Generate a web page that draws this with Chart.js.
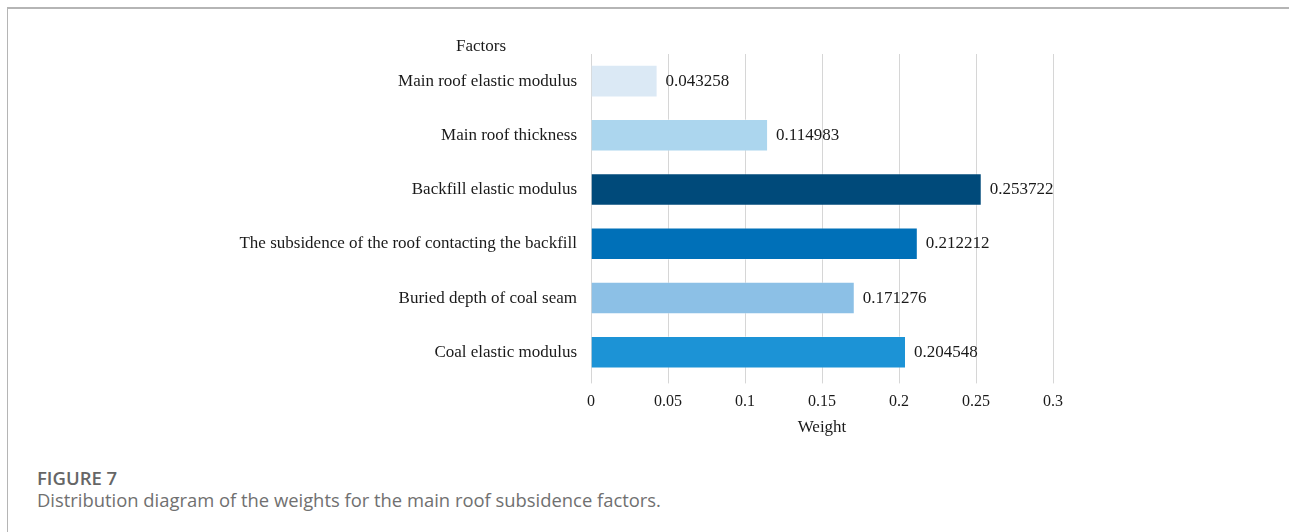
<!DOCTYPE html>
<html>
<head>
<meta charset="utf-8">
<script src="https://cdn.jsdelivr.net/npm/chart.js@4"></script>
<style>
  html, body { margin: 0; padding: 0; background: #fff; }
  #frame {
    position: absolute; left: 7px; top: 7px; right: 0; bottom: 0;
    border-left: 1px solid #b5b5b5; border-top: 2px solid #b5b5b5;
  }
  #wrap { position: absolute; left: 0; top: 0; width: 1289px; height: 445px; }
  #caption {
    position: absolute; left: 37px; top: 466px;
    font-family: "Open Sans", sans-serif; color: #707070;
  }
  #caption .num { font-size: 18.5px; font-weight: 600; line-height: 23px; color: #666; }
  #caption .txt { font-size: 18.4px; line-height: 22px; }
</style>
</head>
<body>
<div id="frame"></div>
<div id="wrap"><canvas id="weight-chart"></canvas></div>
<div id="caption">
  <div class="num">FIGURE 7</div>
  <div class="txt">Distribution diagram of the weights for the main roof subsidence factors.</div>
</div>
<script>
// 요인 이름 (위에서 아래 순서)
const factors = [
  'Main roof elastic modulus',
  'Main roof thickness',
  'Backfill elastic modulus',
  'The subsidence of the roof contacting the backfill',
  'Buried depth of coal seam',
  'Coal elastic modulus',
];
// 가중치 값
const weights = [0.043258, 0.114983, 0.253722, 0.212212, 0.171276, 0.204548];
// 막대 색상
const barColors = ['#dbe9f5', '#acd6ee', '#004a7a', '#0070b8', '#8cc0e6', '#1c93d6'];
// x축 눈금
const xTicks = [0, 0.05, 0.1, 0.15, 0.2, 0.25, 0.3];

const serif = '"Liberation Serif", "Times New Roman", serif';

// 막대 끝에 값 표시
const valueLabels = {
  id: 'valueLabels',
  afterDatasetsDraw(chart) {
    const ctx = chart.ctx;
    const meta = chart.getDatasetMeta(0);
    ctx.save();
    ctx.font = '17px ' + serif;
    ctx.fillStyle = '#1a1a1a';
    ctx.textAlign = 'left';
    ctx.textBaseline = 'middle';
    meta.data.forEach((bar, i) => {
      ctx.fillText(String(weights[i]), bar.x + 8, bar.y);
    });
    // y축 제목 (위쪽)
    ctx.textAlign = 'center';
    ctx.fillText('Factors', chart.chartArea.left - 110, chart.chartArea.top - 7);
    ctx.restore();
  },
};

new Chart(document.querySelector('#weight-chart'), {
  type: 'bar',
  data: {
    labels: factors,
    datasets: [{
      data: weights,
      backgroundColor: barColors,
      borderColor: 'rgba(255,255,255,0.35)',
      borderWidth: 1,
      categoryPercentage: 1,
      barPercentage: 0.6,
    }],
  },
  options: {
    indexAxis: 'y',
    responsive: true,
    maintainAspectRatio: false,
    animation: false,
    layout: { padding: { top: 54, right: 236, left: 0, bottom: 7 } },
    plugins: {
      legend: { display: false },
      tooltip: { enabled: false },
    },
    scales: {
      x: {
        min: 0,
        max: 0.3,
        afterBuildTicks: (scale) => {
          scale.ticks = xTicks.map((v) => ({ value: v }));
        },
        ticks: {
          font: { family: serif, size: 16 },
          color: '#1a1a1a',
          padding: 9,
          callback: (v) => String(v),
        },
        grid: { color: '#d6d6d6', tickLength: 4 },
        border: { display: false },
        title: {
          display: true,
          text: 'Weight',
          font: { family: serif, size: 17 },
          color: '#1a1a1a',
          padding: { top: -3, bottom: 0 },
        },
      },
      y: {
        afterFit: (scale) => { scale.width = 591; },
        ticks: {
          font: { family: serif, size: 17 },
          color: '#1a1a1a',
          padding: 14,
        },
        grid: { display: false, drawTicks: false },
        border: { display: false },
      },
    },
  },
  plugins: [valueLabels],
});
</script>
</body>
</html>
